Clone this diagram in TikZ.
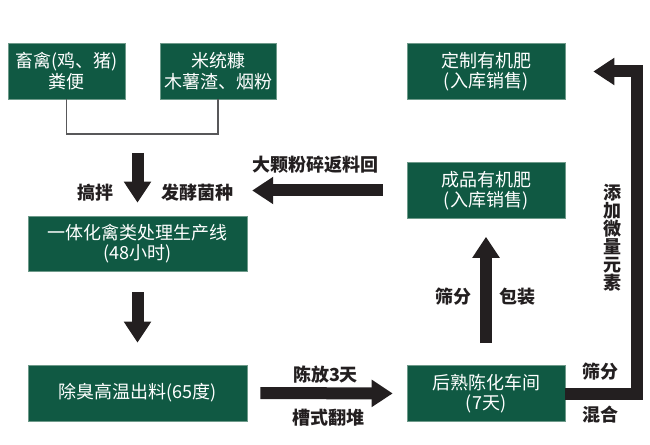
\documentclass[tikz,border=0pt]{standalone}
\usepackage{fontspec}
\setmainfont{Noto Sans CJK SC}
\usepackage{xcolor}
\usetikzlibrary{arrows.meta, positioning}

\definecolor{boxgreen}{HTML}{105943}
\definecolor{boxrim}{HTML}{6E9A8A}
\definecolor{arrowink}{HTML}{231F20}
\definecolor{linkgray}{HTML}{58585A}

\begin{document}
\begin{tikzpicture}[
    x=1bp, y=-1bp,
    stage/.style={rectangle, draw=boxrim, line width=0.6bp, fill=boxgreen, text=white, minimum height=56bp, align=center, inner sep=0pt, font=\fontsize{18bp}{20.5bp}\selectfont},
    tag/.style={font=\fontsize{18bp}{18bp}\selectfont\bfseries, text=arrowink, inner sep=1bp, align=center},
    bigarrow/.style={draw=arrowink, line width=12bp, -{Triangle[width=26bp, length=21bp]}},
    joinline/.style={draw=linkgray, line width=1.8bp}
]
    \useasboundingbox (0,0) rectangle (650,445);

    % raw materials
    \node (manure) [stage, minimum width=117bp] at (66.5,71) {畜禽(鸡、猪)\\粪便};
    \node (bran) [stage, minimum width=116bp] at (218,71) {米统糠\\木薯渣、烟粉};
    \coordinate (join) at (137.5,134);

    % main line
    \node (line48) [stage, minimum width=219bp, minimum height=55bp] at (137.5,243.5) {一体化禽类处理生产线\\(48小时)};
    \node (hot) [stage, minimum width=219bp] at (137.5,393) {除臭高温出料(65度)};
    \node (aging) [stage, minimum width=158bp] at (486,393.5) {后熟陈化车间\\(7天)};
    \node (product) [stage, minimum width=158bp] at (486,190.5) {成品有机肥\\(入库销售)};
    \node (custom) [stage, minimum width=158bp] at (486,71.5) {定制有机肥\\(入库销售)};

    % labels
    \node (stir) [tag] at (95,193) {搞拌};
    \node (ferment) [tag] at (197,193) {发酵菌种};
    \node (crush) [tag] at (315,165) {大颗粉碎返料回};
    \node (sieve1) [tag] at (453,297) {筛分};
    \node (pack) [tag] at (517,297) {包装};
    \node (rest) [tag] at (325.5,375) {陈放3天};
    \node (turn) [tag] at (328.5,418) {槽式翻堆};
    \node (sieve2) [tag] at (600,372) {筛分};
    \node (mix) [tag] at (600,415) {混合};
    \node (micro) [tag] at (612,238) {添\\加\\微\\量\\元\\素};

    % connectors
    \draw [joinline] (manure.south) |- (join) -| (bran.south);
    \draw [bigarrow, shorten <=19bp, shorten >=13bp] (join) -- (line48.north);
    \draw [bigarrow, shorten <=21bp, shorten >=22bp] (line48.south) -- (hot.north);
    \draw [bigarrow, shorten <=13bp, shorten >=14bp] (hot.east) -- (aging.west);
    \draw [bigarrow, shorten <=22bp, shorten >=18bp] (aging.north) -- (product.south);
    \draw [bigarrow, shorten <=24bp, shorten >=18bp] (product.west) -- (product.west -| ferment.east);
    \draw [bigarrow, shorten >=28bp] (aging.east) -| ([xshift=71.5bp]custom.east) -- (custom.east);
\end{tikzpicture}
\end{document}
